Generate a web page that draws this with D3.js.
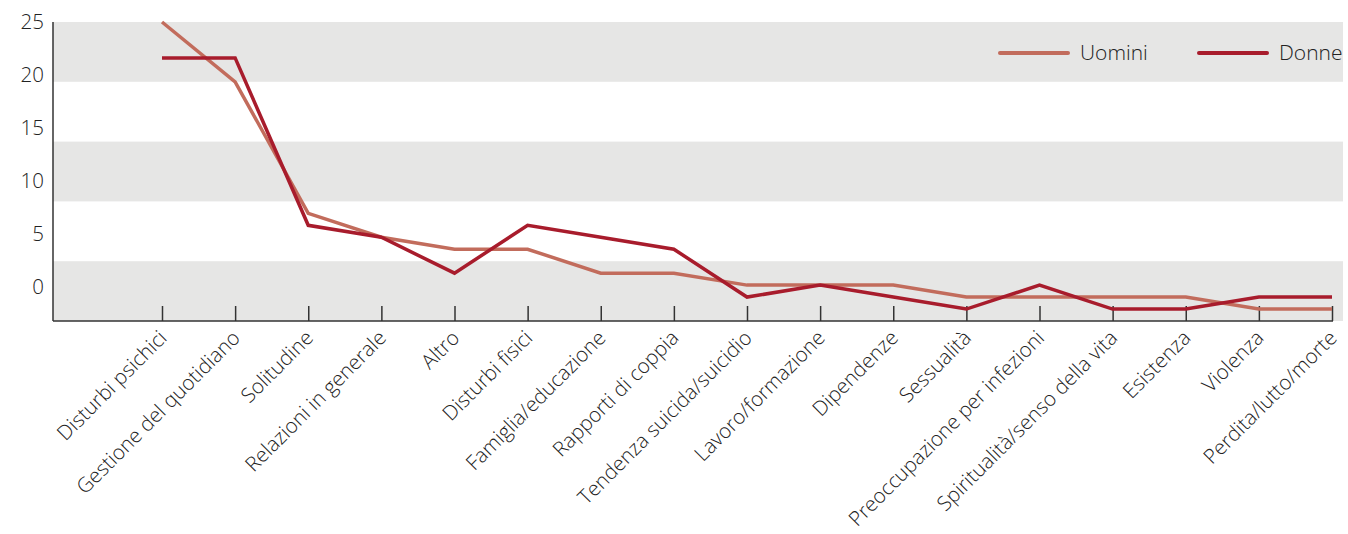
<!DOCTYPE html>
<html>
<head>
<meta charset="utf-8">
<script src="https://cdn.jsdelivr.net/npm/d3@7"></script>
<style>
  html, body { margin: 0; padding: 0; background: #fff; }
  svg { display: block; font-family: "Open Sans", "Noto Sans", sans-serif; font-weight: 300; }
</style>
</head>
<body>
<svg id="chart" width="1348" height="534"></svg>
<script>
// Motivi di contatto (%), per sesso
const categories = [
  "Disturbi psichici", "Gestione del quotidiano", "Solitudine", "Relazioni in generale",
  "Altro", "Disturbi fisici", "Famiglia/educazione", "Rapporti di coppia",
  "Tendenza suicida/suicidio", "Lavoro/formazione", "Dipendenze", "Sessualità",
  "Preoccupazione per infezioni", "Spiritualità/senso della vita", "Esistenza",
  "Violenza", "Perdita/lutto/morte"
];
const uomini = [25, 20, 9, 7, 6, 6, 4, 4, 3, 3, 3, 2, 2, 2, 2, 1, 1];
const donne  = [22, 22, 8, 7, 4, 8, 7, 6, 2, 3, 2, 1, 3, 1, 1, 2, 2];
const yTickLabels = [0, 5, 10, 15, 20, 25];
const bandEdges = [0, 5, 10, 15, 20, 25];

const series = [
  { name: "Uomini", values: uomini, color: "#c26c5c" },
  { name: "Donne",  values: donne,  color: "#a81c2c" }
];

const svg = d3.select("#chart");
const plotLeft = 53, plotRight = 1343, plotTop = 22, plotBottom = 321;
const textColor = "#222";

const x = d3.scalePoint().domain(categories).range([162, 1332]);
const y = d3.scaleLinear().domain([0, 25]).range([plotBottom, plotTop]);
// tick labels sit on their own spacing along the axis
const yLabel = d3.scaleLinear().domain([0, 25]).range([287, 22]);

// alternating background bands every 5 points
const bands = d3.range(0, bandEdges.length - 1).filter(i => i % 2 === 0);
svg.append("g").selectAll("rect")
  .data(bands)
  .join("rect")
  .attr("x", plotLeft)
  .attr("width", plotRight - plotLeft)
  .attr("y", i => y(bandEdges[i + 1]))
  .attr("height", i => y(bandEdges[i]) - y(bandEdges[i + 1]))
  .attr("fill", "#e6e6e5");

// y axis
svg.append("line")
  .attr("x1", plotLeft).attr("x2", plotLeft)
  .attr("y1", plotTop).attr("y2", plotBottom)
  .attr("stroke", "#333").attr("stroke-width", 1.5);

svg.append("g").selectAll("text")
  .data(yTickLabels)
  .join("text")
  .attr("x", 44)
  .attr("y", d => yLabel(d))
  .attr("dy", "0.36em")
  .attr("text-anchor", "end")
  .attr("font-size", 20.5)
  .attr("fill", textColor)
  .text(d => d);

// x axis with inner ticks
const xAxis = d3.axisBottom(x).tickSize(-15).tickFormat("").tickSizeOuter(0);
const gx = svg.append("g").attr("transform", `translate(0,${plotBottom})`).call(xAxis);
gx.select(".domain").remove();
gx.selectAll(".tick line").attr("stroke", "#333").attr("stroke-width", 1.5);
svg.append("line")
  .attr("x1", plotLeft).attr("x2", x(categories[categories.length - 1]) + 1)
  .attr("y1", plotBottom).attr("y2", plotBottom)
  .attr("stroke", "#333").attr("stroke-width", 1.5);

// rotated category labels
svg.append("g").selectAll("text")
  .data(categories)
  .join("text")
  .attr("transform", d => `translate(${x(d) - 4},${plotBottom + 8}) rotate(-45)`)
  .attr("text-anchor", "end")
  .attr("dy", "0.7em")
  .attr("font-size", 20.5)
  .attr("fill", textColor)
  .text(d => d);

// lines
const line = d3.line()
  .x((d, i) => x(categories[i]))
  .y(d => y(d));

svg.append("g").selectAll("path")
  .data(series)
  .join("path")
  .attr("d", s => line(s.values))
  .attr("fill", "none")
  .attr("stroke", s => s.color)
  .attr("stroke-width", 3.5)
  .attr("stroke-linejoin", "miter");

// legend
const legendX = [1000, 1199];
const lg = svg.append("g").selectAll("g")
  .data(series)
  .join("g")
  .attr("transform", (s, i) => `translate(${legendX[i]},53)`);
lg.append("line")
  .attr("x1", 0).attr("x2", 68)
  .attr("stroke", s => s.color)
  .attr("stroke-width", 4)
  .attr("stroke-linecap", "round");
lg.append("text")
  .attr("x", 80)
  .attr("dy", "0.35em")
  .attr("font-size", 21)
  .attr("fill", textColor)
  .text(s => s.name);
</script>
</body>
</html>
